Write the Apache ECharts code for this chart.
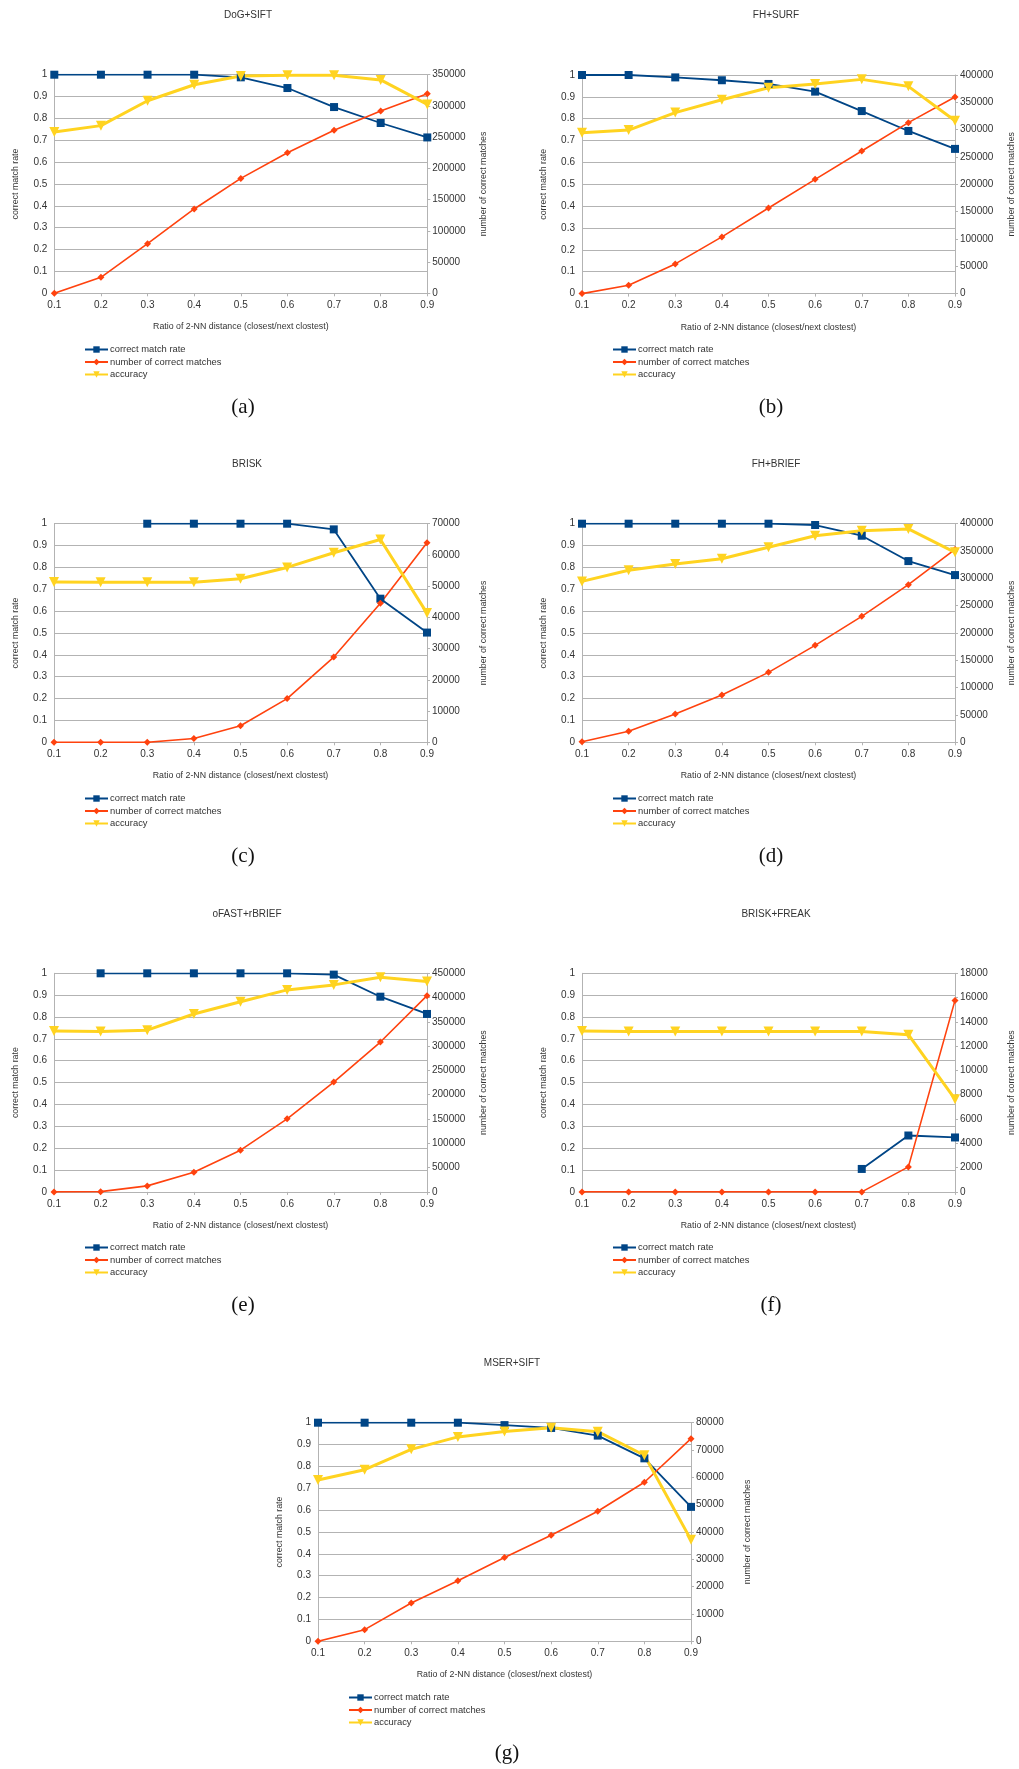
<!DOCTYPE html>
<html>
<head>
<meta charset="utf-8">
<script src="https://cdn.jsdelivr.net/npm/echarts@6/dist/echarts.min.js"></script>
<style>
  html, body { margin: 0; padding: 0; background: #ffffff; }
  #chart { width: 1019px; height: 1769px; }
</style>
</head>
<body>
<div id="chart"></div>
<script>
// Ratio of 2-NN distance (x axis categories)
const ratios = ['0.1', '0.2', '0.3', '0.4', '0.5', '0.6', '0.7', '0.8', '0.9'];

const seriesNames = ['correct match rate', 'number of correct matches', 'accuracy'];
const panelTitles = ['DoG+SIFT', 'FH+SURF', 'BRISK', 'FH+BRIEF', 'oFAST+rBRIEF', 'BRISK+FREAK', 'MSER+SIFT'];
const captions = ['(a)', '(b)', '(c)', '(d)', '(e)', '(f)', '(g)'];

// Right axis (number of correct matches) ranges per panel
const matchAxisMax = [350000, 400000, 70000, 400000, 450000, 18000, 80000];
const matchAxisStep = [50000, 50000, 10000, 50000, 50000, 2000, 10000];

// (a) DoG+SIFT
const dogSiftRate = [1, 1, 1, 1, 0.988, 0.939, 0.852, 0.779, 0.713];
const dogSiftMatches = [0, 25600, 79500, 135000, 184000, 225000, 261000, 292000, 319600];
const dogSiftAccuracy = [0.738, 0.767, 0.881, 0.954, 0.994, 0.998, 0.997, 0.976, 0.864];

// (b) FH+SURF
const fhSurfRate = [1, 1, 0.989, 0.976, 0.959, 0.924, 0.835, 0.744, 0.662];
const fhSurfMatches = [0, 15200, 54300, 103700, 156700, 209100, 261000, 312800, 359800];
const fhSurfAccuracy = [0.736, 0.748, 0.828, 0.887, 0.942, 0.959, 0.980, 0.948, 0.791];

// (c) BRISK
const briskRate = [null, null, 1, 1, 1, 1, 0.974, 0.657, 0.502];
const briskMatches = [0, 0, 0, 1200, 5300, 14000, 27300, 44500, 63900];
const briskAccuracy = [0.733, 0.732, 0.732, 0.732, 0.748, 0.800, 0.867, 0.928, 0.591];

// (d) FH+BRIEF
const fhBriefRate = [1, 1, 1, 1, 1, 0.994, 0.945, 0.829, 0.765];
const fhBriefMatches = [1000, 20100, 51800, 86600, 128000, 177400, 230500, 288400, 353000];
const fhBriefAccuracy = [0.736, 0.787, 0.816, 0.840, 0.892, 0.945, 0.968, 0.976, 0.869];

// (e) oFAST+rBRIEF
const orbRate = [null, 1, 1, 1, 1, 1, 0.994, 0.893, 0.814];
const orbMatches = [0, 500, 12400, 40500, 85900, 150500, 226000, 308500, 404000];
const orbAccuracy = [0.736, 0.734, 0.740, 0.814, 0.870, 0.924, 0.947, 0.982, 0.962];

// (f) BRISK+FREAK
const freakRate = [null, null, null, null, null, null, 0.105, 0.258, 0.249];
const freakMatches = [0, 0, 0, 0, 0, 0, 0, 2060, 15770];
const freakAccuracy = [0.736, 0.734, 0.734, 0.734, 0.734, 0.734, 0.734, 0.719, 0.424];

// (g) MSER+SIFT
const mserRate = [1, 1, 1, 1, 0.989, 0.976, 0.941, 0.837, 0.615];
const mserMatches = [0, 4260, 14000, 22160, 30700, 38840, 47600, 58200, 74150];
const mserAccuracy = [0.738, 0.785, 0.878, 0.935, 0.960, 0.977, 0.959, 0.851, 0.464];

const rateData = [dogSiftRate, fhSurfRate, briskRate, fhBriefRate, orbRate, freakRate, mserRate];
const matchData = [dogSiftMatches, fhSurfMatches, briskMatches, fhBriefMatches, orbMatches, freakMatches, mserMatches];
const accuracyData = [dogSiftAccuracy, fhSurfAccuracy, briskAccuracy, fhBriefAccuracy, orbAccuracy, freakAccuracy, mserAccuracy];

// ---- layout (plot-area origin of each panel) ----
const plotW = 373, plotH = 218.6;
const gridOrigin = [[54.3, 74.7], [582, 75], [54, 523.7], [582, 523.7], [54, 973.3], [582, 973.3], [318, 1422.7]];
const titlePos = [[248, 16], [776, 16], [247, 465], [776, 465], [247, 915], [776, 915], [512, 1364]];
const legendPos = [[84, 345], [612, 345], [84, 794], [612, 794], [84, 1243], [612, 1243], [348, 1693]];
const captionPos = [[243, 407], [771, 407], [243, 856], [771, 856], [243, 1305], [771, 1305], [507, 1753]];

const FONT = 'Liberation Sans';
const TEXT = '#333333';
const GRID_LINE = '#b3b3b3';
const BLUE = '#004586', ORANGE = '#ff420e', YELLOW = '#ffd320';

const option = {
  backgroundColor: '#ffffff',
  animation: false,
  title: [], grid: [], xAxis: [], yAxis: [], series: [], legend: [], graphic: []
};

panelTitles.forEach((name, i) => {
  option.title.push({
    text: name, left: titlePos[i][0], top: titlePos[i][1] - 6, textAlign: 'center', padding: 0,
    textStyle: { fontFamily: FONT, fontSize: 10, fontWeight: 'normal', color: TEXT }
  });
  option.grid.push({ left: gridOrigin[i][0], top: gridOrigin[i][1], width: plotW, height: plotH, containLabel: false });
  option.xAxis.push({
    type: 'category', gridIndex: i, data: ratios, boundaryGap: false,
    name: 'Ratio of 2-NN distance (closest/next clostest)', nameLocation: 'middle', nameGap: 29,
    nameTextStyle: { fontFamily: FONT, fontSize: 8.8, color: TEXT },
    axisLine: { lineStyle: { color: GRID_LINE } },
    axisTick: { show: true, length: 3, alignWithLabel: true, lineStyle: { color: GRID_LINE } },
    axisLabel: { fontFamily: FONT, fontSize: 10, color: TEXT, margin: 7 },
    splitLine: { show: false }
  });
  option.yAxis.push({
    type: 'value', gridIndex: i, position: 'left', min: 0, max: 1, interval: 0.1,
    name: 'correct match rate', nameLocation: 'middle', nameRotate: 90, nameGap: 34,
    nameTextStyle: { fontFamily: FONT, fontSize: 8.8, color: TEXT },
    axisLine: { show: true, lineStyle: { color: GRID_LINE } },
    axisTick: { show: false },
    axisLabel: { fontFamily: FONT, fontSize: 10, color: TEXT, margin: 7 },
    splitLine: { show: true, lineStyle: { color: GRID_LINE, width: 1 } }
  });
  option.yAxis.push({
    type: 'value', gridIndex: i, position: 'right', min: 0, max: matchAxisMax[i], interval: matchAxisStep[i],
    name: 'number of correct matches', nameLocation: 'middle', nameRotate: 90, nameGap: 52,
    nameTextStyle: { fontFamily: FONT, fontSize: 8.8, color: TEXT },
    axisLine: { show: true, lineStyle: { color: GRID_LINE } },
    axisTick: { show: true, length: 3, lineStyle: { color: GRID_LINE } },
    axisLabel: { fontFamily: FONT, fontSize: 10, color: TEXT, margin: 5, formatter: v => String(v) },
    splitLine: { show: false }
  });

  option.series.push({
    name: seriesNames[0], type: 'line', xAxisIndex: i, yAxisIndex: 2 * i,
    data: rateData[i], connectNulls: false,
    symbol: 'rect', symbolSize: 8, color: BLUE,
    lineStyle: { color: BLUE, width: 1.8 }, itemStyle: { color: BLUE }
  });
  option.series.push({
    name: seriesNames[1], type: 'line', xAxisIndex: i, yAxisIndex: 2 * i + 1,
    data: matchData[i],
    symbol: 'diamond', symbolSize: 7, color: ORANGE,
    lineStyle: { color: ORANGE, width: 1.6 }, itemStyle: { color: ORANGE }
  });
  option.series.push({
    name: seriesNames[2], type: 'line', xAxisIndex: i, yAxisIndex: 2 * i,
    data: accuracyData[i],
    symbol: 'triangle', symbolRotate: 180, symbolSize: 10, color: YELLOW,
    lineStyle: { color: YELLOW, width: 3 }, itemStyle: { color: YELLOW }
  });

  option.legend.push({
    orient: 'vertical', left: legendPos[i][0], top: legendPos[i][1], padding: 0,
    itemWidth: 23, itemHeight: 8, itemGap: 3.5, selectedMode: false,
    data: seriesNames,
    textStyle: { fontFamily: FONT, fontSize: 9.4, color: TEXT, padding: [0, 0, 0, -3] }
  });

  option.graphic.push({
    type: 'text', x: captionPos[i][0], y: captionPos[i][1], silent: true,
    style: {
      text: captions[i], fontFamily: 'Liberation Serif', fontSize: 21, fill: '#111111',
      textAlign: 'center', textVerticalAlign: 'middle'
    }
  });
});

const chart = echarts.init(document.getElementById('chart'), null, { renderer: 'canvas' });
chart.setOption(option);
</script>
</body>
</html>
